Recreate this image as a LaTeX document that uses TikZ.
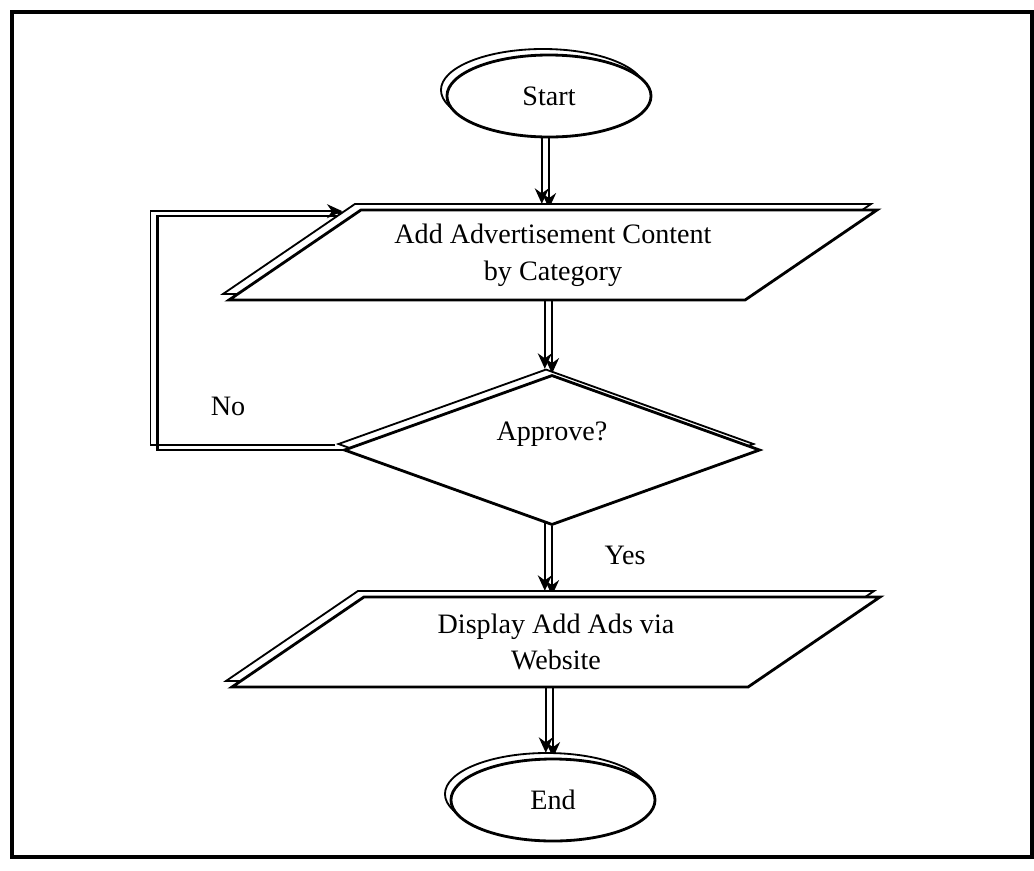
\documentclass[tikz,border=0pt]{standalone}
\usepackage{fontspec}
\setmainfont{Liberation Serif}
\usepackage{tikz}
\usetikzlibrary{shapes.geometric, arrows.meta, positioning, shadows, calc, backgrounds}

\newcommand{\iolines}[1]{\parbox[c][2.25cm][c]{9.6cm}{\centering #1}}

\begin{document}
\begin{tikzpicture}[
  x=0.025cm, y=-0.025cm,
  font=\fontsize{20}{26}\selectfont,
  shadowed/.style={fill=white, draw=black, line width=2pt,
               general shadow={fill=white, draw=black, line width=1.3pt,
                               shadow xshift=-0.15cm, shadow yshift=0.15cm}},
  terminal/.style={ellipse, shadowed, minimum width=5.1cm, minimum height=2.05cm},
  iobox/.style={trapezium, trapezium left angle=34.3, trapezium right angle=145.7,
               shadowed, inner sep=0pt},
  decision/.style={diamond, shadowed, minimum width=10.4cm, minimum height=3.75cm, inner sep=0pt},
  arrow/.style={-{Stealth[length=11pt, width=10pt]}, line width=1.6pt,
               preaction={draw, line width=1.1pt, transform canvas={xshift=-0.18cm, yshift=0.12cm}}}
]
\useasboundingbox (0,0) rectangle (1034,870);
\draw[line width=2.6pt] (12,12) rectangle (1032,857);

\node[terminal] (start) at (549,96) {Start};
\node[iobox] (add) at (553,255) {\iolines{Add Advertisement Content\\by Category}};
\node[decision, label={[yshift=0.4cm]center:Approve?}] (approve) at (552,450) {};
\node[iobox] (display) at (556,642) {\iolines{Display Add Ads via\\Website}};
\node[terminal] (end) at (553,800) {End};

\coordinate (loopend) at ($(add.top left corner)!0.08!(add.bottom left corner)$);

\begin{scope}[on background layer]
\draw[arrow] (start.south) -- (start.south |- add.top side);
\draw[arrow] (approve.north |- add.bottom side) -- (approve.north);
\draw[arrow] (approve.south) -- (approve.south |- display.top side);
\draw[arrow] (end.north |- display.bottom side) -- (end.north);
\draw[arrow] (approve.west) -- ++(-185,0) |- (loopend);
\end{scope}

\node (no) at (228,406) {No};
\node (yes) at (625,555) {Yes};

\end{tikzpicture}
\end{document}
